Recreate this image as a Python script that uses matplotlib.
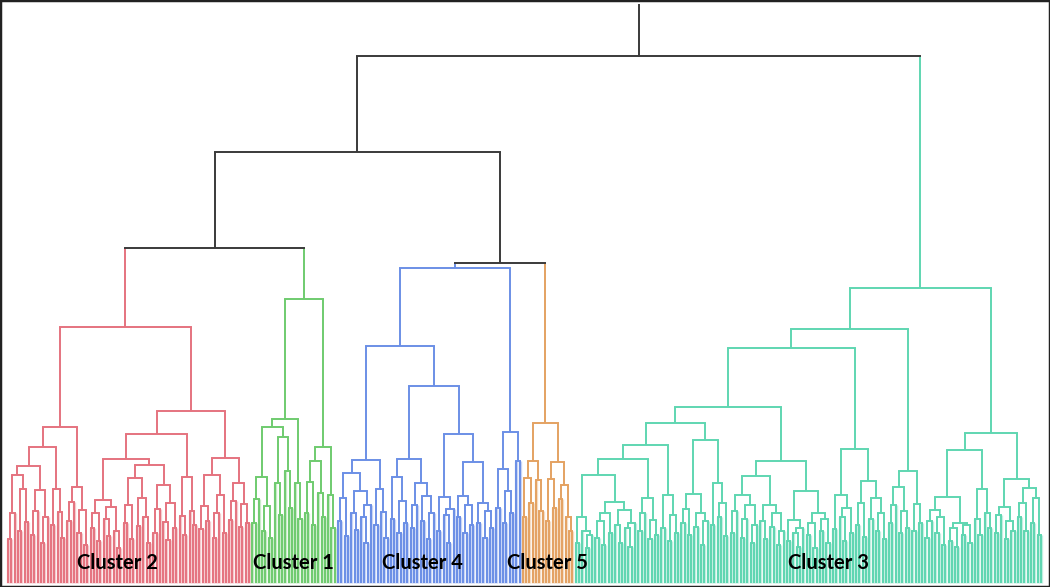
import numpy as np
import matplotlib.pyplot as plt
from matplotlib.colors import to_rgb

# cluster order from left to right, with number of leaves in each
clusterNames = ["Cluster 2", "Cluster 1", "Cluster 4", "Cluster 5", "Cluster 3"]
clusterSizes = [74, 26, 56, 16, 142]
clusterColors = ["#e5737f", "#6fcb6f", "#6b8fe6", "#e4a262", "#5fd6b1"]

# merge height between neighbouring leaves inside each cluster
gapsCluster2 = [44, 70, 108, 52, 94, 61, 117, 48, 72, 93, 40, 66, 136, 58, 94, 71, 45,
                156, 62, 81, 96, 50, 73, 38, 256, 55, 70, 42, 83, 64, 47, 76, 52, 35,
                124, 60, 78, 44, 105, 57, 85, 66, 40, 118, 50, 74, 98, 61, 43, 80, 55,
                149, 67, 48, 106, 72, 58, 172, 54, 77, 62, 108, 45, 70, 88, 50, 125,
                63, 82, 100, 56, 79, 60]
gapsCluster1 = [60, 84, 106, 52, 77, 45, 156, 100, 68, 146, 112, 75, 164, 100, 64, 284,
                70, 101, 58, 122, 90, 66, 136, 88, 55]
gapsCluster4 = [62, 85, 47, 110, 70, 53, 92, 66, 40, 78, 123, 58, 94, 71, 45, 237,
                64, 106, 50, 82, 60, 124, 55, 78, 100, 62, 87, 44, 70, 197,
                52, 86, 68, 40, 74, 149, 66, 87, 50, 78, 58, 121, 60, 80, 45, 72, 55,
                315, 75, 114, 60, 92, 70, 151, 122]
gapsCluster5 = [66, 105, 80, 122, 103, 72, 160, 62, 104, 75, 121, 84, 98, 66, 52]
gapsCluster3 = [40, 66, 52, 35, 48, 108,
                45, 62, 38, 70, 50, 81, 58, 40, 73, 55, 36, 60, 124,
                52, 70, 85, 44, 63, 48, 138,
                55, 88, 42, 68, 50, 160,
                60, 74, 48, 89, 56, 70, 38, 62, 143,
                58, 100, 66, 80, 47, 176,
                50, 72, 88, 45, 64, 78, 40, 58, 107,
                62, 44, 78, 56, 70, 38, 52, 122,
                42, 63, 50, 36, 55, 92,
                48, 60, 35, 70, 52, 64, 40, 235,
                54, 88, 66, 42, 75, 50, 134,
                58, 80, 46, 102, 64, 85, 52, 70, 44, 254,
                60, 78, 96, 50, 72, 55, 112,
                52, 79, 60, 295,
                45, 62, 73, 50, 66, 38, 86,
                42, 55, 36, 60, 48, 58, 40, 133,
                64, 48, 94, 70, 55, 150,
                50, 68, 76, 44, 62, 52, 104,
                66, 80, 52, 95, 60, 85, 48]

# merge heights between neighbouring clusters (2|1, 1|4, 4|5, 5|3)
gapsBetween = [335, 431, 320, 527]
rootTop = 578

labelShift = [-3.2, 0, -2, 0, 6]


gapLists = [gapsCluster2, gapsCluster1, gapsCluster4, gapsCluster5, gapsCluster3]
gaps = []
for k, g in enumerate(gapLists):
    gaps += g
    if k < len(gapsBetween):
        gaps.append(gapsBetween[k])
gaps = np.array(gaps, dtype=float)

leafCluster = np.repeat(np.arange(len(clusterSizes)), clusterSizes)
nLeaves = len(leafCluster)

fig = plt.figure(figsize=(10.5, 5.87), dpi=100)
ax = fig.add_axes([0, 0, 1, 1])

lineColor = "#3a3a3a"
lw = 1.4


def pale(c, f=0.62):
    r = np.array(to_rgb(c))
    return tuple(r * (1 - f) + f)


def stem(x, h0, h1, c):
    if h0 == 0:
        ax.plot([x, x], [h0, h1], color=pale(c), lw=2.4, solid_capstyle="butt",
                zorder=1)
    ax.plot([x, x], [h0, h1], color=c, lw=lw, solid_capstyle="butt", zorder=2)


def build(lo, hi):
    if lo == hi:
        return lo, 0.0, clusterColors[leafCluster[lo]]
    k = lo + int(np.argmax(gaps[lo:hi]))
    h = gaps[k]
    xl, hl, cl = build(lo, k)
    xr, hr, cr = build(k + 1, hi)
    if leafCluster[lo] == leafCluster[hi]:
        c = clusterColors[leafCluster[lo]]
    else:
        c = lineColor
    stem(xl, hl, h, cl)
    stem(xr, hr, h, cr)
    ax.plot([xl, xr], [h, h], color=c, lw=lw, solid_capstyle="projecting", zorder=2)
    return (xl + xr) / 2, h, c


xTop, hTop, cTop = build(0, nLeaves - 1)
ax.plot([xTop, xTop], [hTop, rootTop], color=lineColor, lw=lw)

starts = np.cumsum([0] + clusterSizes[:-1])
for k, name in enumerate(clusterNames):
    xc = starts[k] + (clusterSizes[k] - 1) / 2 + labelShift[k]
    ax.text(xc, 20, name, ha="center", va="center", fontsize=14.5,
            fontweight="bold", family="Lato", color="#000000", zorder=5)

ax.set_xlim(-8 / 3.3, (1050 - 8) / 3.3)
ax.set_ylim(-4, 583)
ax.set_xticks([])
ax.set_yticks([])
for s in ax.spines.values():
    s.set_linewidth(2.5)
    s.set_color("#222222")

fig.savefig("out.png", dpi=100)
